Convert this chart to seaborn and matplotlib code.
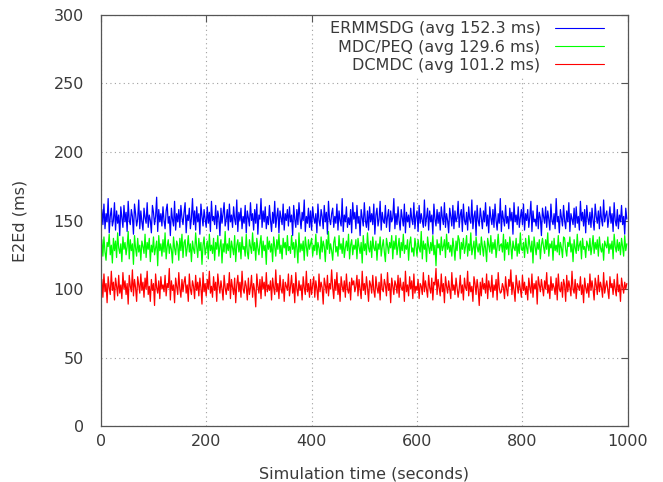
import pandas as pd
import matplotlib
matplotlib.use("Agg")
import matplotlib.pyplot as plt
import seaborn as sns

# sample times (seconds), one reading every 2 s
time_s = list(range(0, 1000, 2))

ermmsdg = [
    151, 158, 147, 162, 144, 155, 149, 166, 141, 153, 159, 146, 150, 163, 143, 157, 148, 154, 139, 160,
    152, 145, 161, 149, 156, 142, 164, 150, 147, 158, 153, 140, 162, 155, 146, 151, 165, 144, 157, 149,
    143, 159, 152, 148, 163, 145, 154, 150, 141, 161, 156, 147, 153, 167, 142, 158, 149, 155, 146, 160,
    150, 144, 157, 162, 148, 153, 139, 159, 151, 146, 164, 143, 155, 149, 158, 145, 161, 152, 147, 156,
    163, 141, 154, 150, 159, 144, 152, 166, 147, 157, 143, 160, 149, 155, 140, 162, 153, 146, 158, 151,
    145, 160, 148, 156, 142, 164, 150, 153, 147, 161, 144, 157, 152, 139, 159, 148, 155, 163, 146, 151,
    158, 143, 162, 149, 154, 145, 160, 151, 147, 165, 142, 156, 150, 159, 144, 153, 148, 161, 141, 157,
    152, 146, 163, 150, 155, 143, 158, 148, 162, 140, 154, 151, 166, 145, 157, 149, 160, 144, 153, 147,
    161, 150, 142, 156, 148, 164, 145, 153, 159, 141, 157, 152, 147, 162, 143, 155, 150, 158, 146, 160,
    149, 154, 139, 161, 151, 145, 158, 147, 163, 152, 144, 156, 150, 165, 142, 153, 148, 159, 145, 157,
    143, 160, 152, 148, 155, 141, 162, 150, 146, 158, 153, 144, 161, 149, 156, 140, 164, 151, 147, 155,
    159, 145, 153, 148, 162, 143, 157, 150, 146, 166, 142, 154, 149, 160, 145, 152, 147, 158, 141, 163,
    151, 156, 144, 161, 148, 153, 139, 158, 152, 146, 163, 150, 145, 157, 143, 160, 149, 155, 147, 162,
    140, 154, 159, 146, 151, 164, 143, 156, 150, 148, 161, 145, 153, 158, 142, 157, 149, 152, 166, 144,
    155, 147, 160, 150, 143, 158, 152, 146, 162, 141, 156, 149, 154, 145, 159, 151, 147, 163, 144, 153,
    157, 142, 161, 148, 155, 150, 145, 165, 146, 152, 159, 143, 157, 149, 154, 140, 162, 151, 146, 158,
    148, 156, 143, 160, 152, 147, 163, 145, 155, 150, 141, 159, 153, 146, 161, 144, 157, 149, 152, 164,
    145, 154, 158, 142, 162, 150, 147, 156, 143, 160, 151, 148, 165, 144, 153, 157, 139, 161, 150, 146,
    159, 152, 144, 157, 149, 163, 146, 154, 141, 160, 152, 147, 158, 145, 162, 150, 143, 155, 148, 166,
    142, 157, 151, 146, 161, 148, 153, 144, 159, 150, 156, 140, 163, 149, 154, 147, 160, 145, 152, 158,
    147, 162, 143, 155, 150, 158, 145, 153, 164, 142, 157, 149, 151, 146, 161, 144, 156, 152, 139, 159,
    153, 148, 160, 145, 157, 151, 143, 162, 150, 147, 155, 144, 166, 149, 153, 141, 158, 152, 146, 161,
    150, 144, 157, 149, 163, 142, 155, 151, 147, 159, 145, 160, 148, 153, 143, 164, 150, 156, 146, 158,
    141, 161, 152, 147, 156, 145, 159, 150, 143, 162, 153, 148, 157, 144, 160, 151, 146, 165, 149, 154,
    157, 145, 152, 160, 148, 155, 142, 163, 150, 146, 158, 144, 154, 149, 161, 147, 153, 140, 159, 151,
]

mdc_peq = [
    129, 136, 124, 138, 127, 121, 134, 131, 140, 125, 132, 119, 137, 128, 135, 123, 141, 130, 126, 133,
    120, 138, 129, 134, 125, 131, 142, 122, 136, 128, 133, 118, 139, 130, 124, 137, 127, 132, 121, 135,
    131, 126, 140, 123, 134, 129, 137, 120, 132, 127, 138, 125, 130, 135, 117, 139, 128, 133, 124, 136,
    127, 141, 122, 131, 136, 126, 133, 129, 119, 138, 130, 125, 135, 132, 121, 137, 128, 140, 123, 134,
    136, 124, 130, 139, 127, 133, 120, 135, 129, 126, 141, 131, 123, 137, 128, 134, 118, 132, 138, 125,
    130, 135, 122, 140, 128, 132, 126, 137, 121, 134, 129, 139, 124, 131, 136, 119, 133, 127, 142, 126,
    133, 128, 137, 123, 135, 130, 125, 139, 120, 132, 136, 127, 134, 122, 138, 129, 131, 124, 140, 127,
    122, 136, 131, 126, 141, 128, 134, 121, 137, 130, 125, 133, 139, 123, 135, 128, 132, 118, 138, 129,
    135, 127, 133, 120, 138, 131, 124, 136, 129, 140, 126, 132, 122, 137, 130, 134, 125, 139, 128, 131,
    126, 139, 129, 134, 123, 136, 130, 119, 141, 127, 133, 128, 135, 121, 138, 131, 124, 136, 129, 133,
    137, 124, 132, 128, 140, 125, 134, 130, 122, 138, 127, 135, 131, 120, 136, 129, 142, 126, 133, 128,
    121, 134, 138, 127, 131, 124, 139, 129, 133, 126, 137, 123, 130, 135, 128, 140, 122, 132, 136, 125,
    132, 129, 136, 122, 137, 131, 126, 134, 119, 139, 128, 133, 125, 141, 130, 127, 135, 123, 138, 130,
    128, 135, 121, 133, 129, 138, 124, 131, 136, 127, 120, 137, 132, 126, 134, 130, 139, 122, 135, 129,
    139, 125, 131, 137, 123, 134, 128, 140, 126, 132, 129, 136, 121, 133, 138, 127, 130, 124, 137, 131,
    124, 136, 130, 127, 142, 122, 135, 129, 133, 120, 138, 131, 126, 134, 128, 139, 125, 132, 117, 136,
    130, 133, 125, 138, 128, 131, 136, 123, 140, 129, 134, 127, 132, 124, 137, 130, 121, 135, 128, 139,
    136, 122, 134, 129, 137, 126, 131, 139, 124, 133, 128, 141, 125, 130, 135, 122, 138, 131, 127, 133,
    125, 138, 131, 124, 135, 130, 120, 137, 132, 127, 139, 126, 134, 129, 136, 123, 131, 140, 128, 132,
    133, 127, 140, 121, 136, 129, 134, 125, 138, 131, 122, 135, 130, 128, 137, 124, 133, 126, 141, 129,
    128, 134, 123, 137, 130, 126, 139, 132, 127, 135, 119, 138, 131, 125, 134, 129, 136, 122, 132, 137,
    131, 126, 136, 129, 141, 124, 133, 130, 135, 121, 137, 128, 132, 127, 139, 125, 134, 130, 123, 138,
    137, 129, 124, 134, 131, 138, 127, 133, 120, 136, 130, 126, 140, 128, 132, 135, 122, 137, 129, 131,
    123, 135, 132, 128, 137, 125, 131, 139, 126, 134, 129, 136, 124, 138, 130, 127, 133, 121, 135, 132,
    130, 138, 126, 133, 129, 135, 122, 140, 131, 127, 136, 128, 134, 125, 137, 131, 124, 139, 128, 133,
]

dcmdc = [
    100, 107, 94, 111, 98, 104, 90, 109, 101, 96, 113, 99, 105, 92, 108, 102, 95, 110, 97, 103,
    93, 112, 100, 106, 96, 104, 89, 110, 102, 98, 114, 95, 107, 101, 91, 109, 103, 97, 111, 99,
    105, 94, 108, 100, 113, 96, 102, 91, 107, 99, 104, 88, 111, 101, 97, 106, 93, 109, 100, 103,
    98, 110, 95, 104, 101, 115, 92, 106, 99, 103, 90, 108, 102, 96, 112, 100, 94, 107, 98, 105,
    109, 97, 103, 91, 111, 100, 96, 106, 102, 93, 110, 99, 105, 95, 108, 101, 89, 112, 98, 104,
    95, 107, 100, 113, 97, 102, 94, 109, 99, 105, 91, 111, 103, 97, 106, 100, 92, 110, 101, 96,
    104, 99, 112, 93, 107, 101, 96, 108, 90, 103, 110, 98, 105, 94, 113, 100, 97, 106, 102, 92,
    108, 96, 101, 110, 94, 104, 99, 87, 111, 102, 97, 107, 93, 109, 100, 105, 95, 112, 98, 103,
    99, 106, 92, 108, 101, 96, 114, 98, 104, 93, 110, 100, 97, 107, 91, 105, 102, 99, 111, 95,
    102, 110, 97, 104, 90, 112, 100, 95, 106, 99, 103, 92, 109, 101, 96, 113, 98, 104, 94, 107,
    96, 103, 109, 94, 106, 100, 92, 111, 98, 105, 101, 89, 108, 103, 97, 110, 95, 104, 100, 114,
    101, 93, 107, 99, 112, 96, 104, 91, 109, 102, 98, 106, 94, 111, 100, 97, 105, 92, 108, 103,
    106, 98, 102, 110, 95, 107, 100, 93, 113, 99, 104, 96, 109, 101, 91, 106, 103, 97, 110, 99,
    94, 109, 101, 97, 105, 92, 111, 100, 98, 107, 103, 95, 112, 99, 104, 90, 108, 102, 96, 106,
    103, 97, 110, 94, 108, 101, 99, 105, 91, 113, 98, 103, 95, 109, 100, 106, 93, 111, 97, 102,
    99, 107, 93, 104, 102, 96, 112, 98, 106, 100, 94, 110, 101, 97, 108, 92, 105, 103, 115, 96,
    107, 101, 95, 111, 98, 104, 90, 109, 102, 97, 106, 100, 93, 112, 99, 103, 96, 108, 101, 94,
    100, 110, 97, 103, 92, 108, 101, 99, 113, 95, 105, 98, 102, 91, 109, 104, 96, 107, 100, 88,
    105, 95, 108, 100, 104, 97, 111, 93, 106, 101, 98, 110, 94, 103, 99, 107, 92, 112, 101, 97,
    98, 104, 101, 93, 109, 100, 95, 107, 102, 114, 96, 105, 99, 91, 110, 103, 97, 106, 100, 94,
    110, 99, 105, 96, 102, 92, 108, 101, 97, 111, 94, 104, 100, 106, 89, 109, 103, 98, 107, 101,
    95, 106, 100, 112, 97, 103, 93, 109, 99, 104, 101, 96, 108, 92, 111, 100, 98, 105, 94, 107,
    103, 91, 110, 98, 106, 101, 95, 113, 100, 97, 107, 93, 104, 102, 99, 109, 96, 103, 90, 108,
    101, 97, 104, 94, 111, 99, 106, 100, 92, 108, 103, 96, 110, 98, 105, 101, 94, 112, 97, 102,
    106, 99, 93, 109, 101, 104, 96, 107, 100, 95, 111, 98, 103, 91, 108, 102, 97, 105, 100, 104,
]

series_labels = [
    "ERMMSDG (avg 152.3 ms)",
    "MDC/PEQ (avg 129.6 ms)",
    "DCMDC (avg 101.2 ms)",
]
series_values = [ermmsdg, mdc_peq, dcmdc]
colors = ["#0000ff", "#00ff00", "#ff0000"]

x_ticks = [0, 200, 400, 600, 800, 1000]
y_ticks = [0, 50, 100, 150, 200, 250, 300]

frames = []
for label, vals in zip(series_labels, series_values):
    frames.append(pd.DataFrame({"time": time_s, "e2ed": vals, "series": label}))
df = pd.concat(frames, ignore_index=True)

sns.set_style("white")
plt.rcParams["font.family"] = ["DejaVu Sans"]
text_col = "#3a3a3a"
fs = 11.5

fig = plt.figure(figsize=(6.63, 4.82), dpi=100)
ax = fig.add_axes([0.152, 0.116, 0.795, 0.853])

sns.lineplot(data=df, x="time", y="e2ed", hue="series", palette=colors,
             estimator=None, linewidth=0.9, ax=ax, legend=False)

ax.set_xlim(0, 1000)
ax.set_ylim(0, 300)
ax.set_xticks(x_ticks)
ax.set_yticks(y_ticks)
ax.grid(True, linestyle=(0, (1, 3)), color="#a0a0a0", linewidth=0.8)
ax.tick_params(direction="in", length=5, width=0.8, top=True, right=True,
               colors="#555555", labelcolor=text_col, labelsize=fs)
ax.tick_params(axis="y", pad=12)
ax.tick_params(axis="x", pad=6)
for sp in ax.spines.values():
    sp.set_color("#555555")
    sp.set_linewidth(0.9)
    sp.set_zorder(6)

ax.set_xlabel("Simulation time (seconds)", fontsize=fs, color=text_col, labelpad=12)
ax.set_ylabel("E2Ed (ms)", fontsize=fs, color=text_col, labelpad=19)

# opaque key box (no border) hides the grid behind it, like gnuplot's key
handles = [plt.Line2D([], [], color=c, linewidth=0.8) for c in colors]
leg = ax.legend(handles, series_labels, loc="upper right",
                bbox_to_anchor=(0.966, 0.998), frameon=True, fancybox=False,
                facecolor="white", edgecolor="none", framealpha=1,
                markerfirst=False, handlelength=3.1, fontsize=fs,
                alignment="right", labelspacing=0.2, borderaxespad=0,
                handletextpad=0.9, borderpad=0.35)
for t in leg.get_texts():
    t.set_color(text_col)
    t.set_ha("right")

fig.savefig("out.png", dpi=100)
